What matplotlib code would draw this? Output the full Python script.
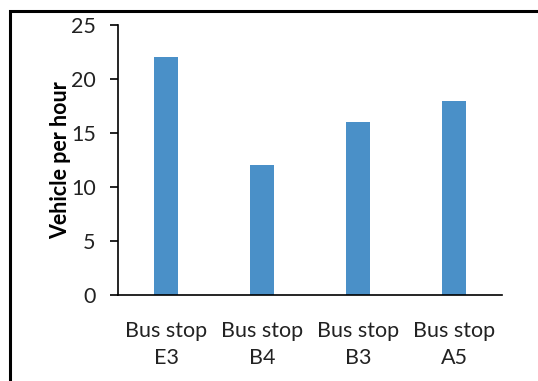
import matplotlib.pyplot as plt
from matplotlib.patches import Rectangle

# Traffic counts at each stop
stops = ["Bus stop\nE3", "Bus stop\nB4", "Bus stop\nB3", "Bus stop\nA5"]
vehicles = [22, 12, 16, 18]
yTicks = [0, 5, 10, 15, 20, 25]

plt.rcParams["font.family"] = ["Lato", "DejaVu Sans"]

fig = plt.figure(figsize=(5.38, 3.81), dpi=100)
ax = fig.add_axes([118 / 538, 1 - 295 / 381, 384 / 538, 270 / 381])

positions = range(len(stops))
ax.bar(positions, vehicles, width=0.24, color="#4a90c8")

ax.set_xlim(-0.5, len(stops) - 0.5)
ax.set_ylim(0, 25)
ax.set_yticks(yTicks)
ax.set_xticks(list(positions))
ax.set_xticklabels(stops, fontsize=15.5, color="#222222", linespacing=1.4)
ax.tick_params(axis="x", length=0, pad=19)
ax.tick_params(axis="y", length=6, width=1.2, labelsize=15.5, labelcolor="#222222", pad=10)

ax.set_ylabel("Vehicle per hour", fontsize=15.5, fontweight="bold", labelpad=0)

for side in ["top", "right"]:
    ax.spines[side].set_visible(False)
for side in ["left", "bottom"]:
    ax.spines[side].set_linewidth(1.2)

# chart frame, only the left and top edges fall inside the image
fig.patches.append(Rectangle((10 / 538, -0.1), 1.2, 1 - 11 / 381 + 0.1,
                             transform=fig.transFigure, fill=False,
                             edgecolor="black", linewidth=2.2))

fig.savefig("out.png", dpi=100)
